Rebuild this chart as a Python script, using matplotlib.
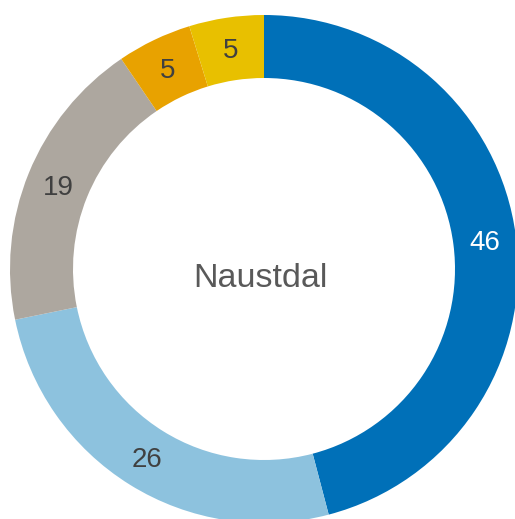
import matplotlib
matplotlib.use("Agg")
import matplotlib.pyplot as plt

values = [45.9, 25.9, 18.7, 4.75, 4.75]
labels = [f"{v:.0f}" for v in values]
colors = ["#0070b8", "#8dc2de", "#ada79f", "#e8a200", "#e8c000"]
text_colors = ["white", "#404040", "#404040", "#404040", "#404040"]
center_label = "Naustdal"

plt.rcParams['font.family'] = ['Liberation Sans', 'DejaVu Sans']

W, H = 515, 519
fig = plt.figure(figsize=(W / 100, H / 100), dpi=100)
cx, cy, R = 264, 269, 254
ax = fig.add_axes([(cx - R) / W, (H - cy - R) / H, 2 * R / W, 2 * R / H])

inner = 191 / R
wedges, _, autotexts = ax.pie(values, colors=colors, startangle=90, counterclock=False,
                              radius=1, wedgeprops=dict(width=1 - inner, linewidth=0),
                              autopct=lambda p: "", pctdistance=(1 + inner) / 2)
dy = -2.5 / R
for t, lab, c in zip(autotexts, labels, text_colors):
    t.set_text(lab)
    t.set_color(c)
    t.set_fontsize(20)
    x, y = t.get_position()
    t.set_position((x, y + dy))

ax.text(-4 / R, -18 / R, center_label, ha="center", va="baseline",
        fontsize=24.5, color="#595959")
ax.set_xlim(-1, 1)
ax.set_ylim(-1, 1)
ax.set_aspect("auto")
ax.axis("off")

fig.savefig("out.png", dpi=100)
